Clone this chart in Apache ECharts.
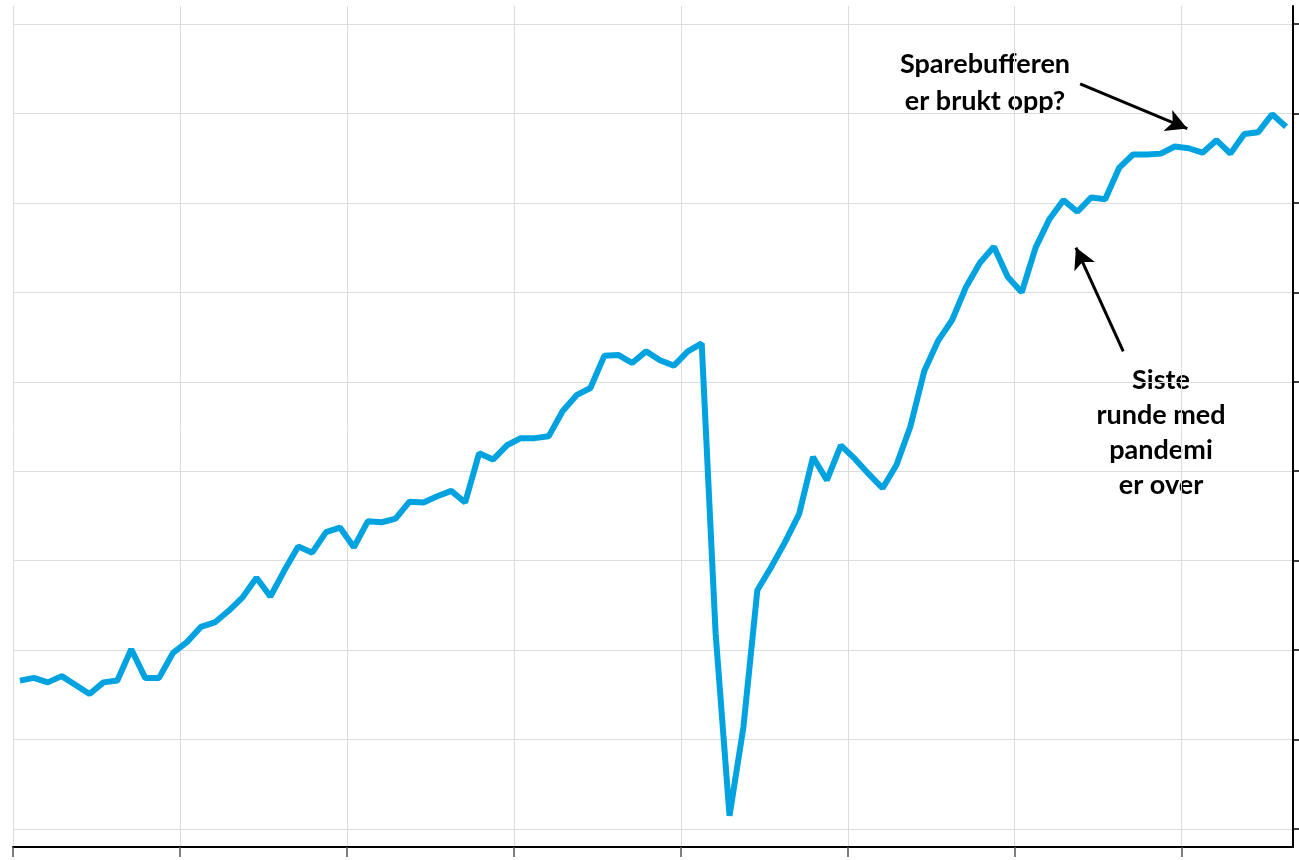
<!DOCTYPE html>
<html>
<head>
<meta charset="utf-8">
<script src="https://cdn.jsdelivr.net/npm/echarts@6/dist/echarts.min.js"></script>
<style>
html, body { margin: 0; padding: 0; background: #fff; }
#main { width: 1299px; height: 860px; }
</style>
</head>
<body>
<div id="main"></div>
<script>
// monthly values, plotted mid-month (index + 0.5)
var months = [];
for (var m = 0; m < 92; m++) { months.push(m + 0.5); }
var values = [
    16.6, 16.9, 16.4, 17.1, 16.1, 15.1, 16.4, 16.6, 20.1, 16.9, 16.9, 19.7,
    20.9, 22.6, 23.1, 24.4, 25.9, 28.1, 26.0, 28.9, 31.6, 30.9, 33.2, 33.7,
    31.5, 34.4, 34.3, 34.7, 36.6, 36.5, 37.2, 37.8, 36.5, 42.0, 41.3, 42.9,
    43.7, 43.7, 43.9, 46.7, 48.5, 49.3, 52.9, 53.0, 52.1, 53.4, 52.4, 51.8,
    53.4, 54.3, 21.9, 1.5, 11.4, 26.7, 29.3, 32.1, 35.2, 41.6, 39.0, 42.9,
    41.4, 39.7, 38.1, 40.7, 45.0, 51.2, 54.6, 56.9, 60.6, 63.3, 65.1, 61.7,
    60.0, 65.0, 68.2, 70.3, 69.0, 70.6, 70.4, 73.9, 75.4, 75.4, 75.5, 76.3,
    76.1, 75.6, 77.0, 75.5, 77.7, 77.9, 79.9, 78.5
];
var xTicks = [0, 12, 24, 36, 48, 60, 72, 84];
var yTicks = [0, 10, 20, 30, 40, 50, 60, 70, 80, 90];

var seriesData = [];
for (var i = 0; i < values.length; i++) {
    seriesData.push([months[i], values[i]]);
}

var chart = echarts.init(document.getElementById('main'));
var labelFont = { fontFamily: 'Lato', fontWeight: 'bold', fontSize: 27, fill: '#000', textAlign: 'center', textVerticalAlign: 'top' };

var option = {
    animation: false,
    grid: { left: 13, right: 6, top: 6, bottom: 13 },
    xAxis: {
        type: 'value',
        min: 0,
        max: 92,
        interval: 12,
        axisLine: { show: true, onZero: false, lineStyle: { color: '#000', width: 2 } },
        axisTick: { show: true, length: 10, customValues: xTicks, lineStyle: { color: '#555', width: 1.5 } },
        axisLabel: { show: false },
        splitLine: { show: true, lineStyle: { color: '#dcdcdc', width: 1 } }
    },
    yAxis: {
        type: 'value',
        position: 'right',
        min: -2,
        max: 92,
        axisLine: { show: true, onZero: false, lineStyle: { color: '#000', width: 2 } },
        axisTick: { show: true, length: 6, customValues: yTicks, lineStyle: { color: '#000', width: 1.5 } },
        axisLabel: { show: false },
        splitLine: { show: true, lineStyle: { color: '#dcdcdc', width: 1 } }
    },
    series: [{
        type: 'line',
        data: seriesData,
        symbol: 'none',
        lineStyle: { color: '#00a3e0', width: 6, join: 'bevel' },
        markLine: {
            silent: true,
            symbol: ['none', 'arrow'],
            symbolSize: [17, 21],
            label: { show: false },
            lineStyle: { color: '#000', width: 3, type: 'solid' },
            data: [
                [{ coord: [76.7, 83.3] }, { coord: [84.4, 78.3] }],
                [{ coord: [79.8, 53.4] }, { coord: [76.4, 65.0] }]
            ]
        }
    }],
    graphic: [
        { type: 'text', x: 985, y: 46, style: Object.assign({ text: 'Sparebufferen\ner brukt opp?', lineHeight: 37 }, labelFont) },
        { type: 'text', x: 1161, y: 363, style: Object.assign({ text: 'Siste\nrunde med\npandemi\ner over', lineHeight: 35 }, labelFont) }
    ]
};
chart.setOption(option);
</script>
</body>
</html>
